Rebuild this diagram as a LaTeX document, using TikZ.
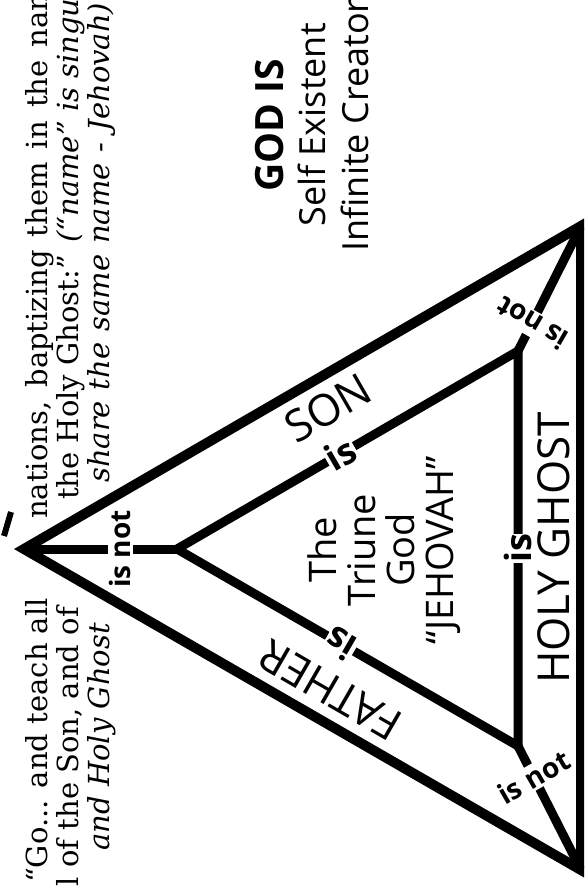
\documentclass[tikz,border=0pt]{standalone}
\usepackage{fontspec}
\setmainfont{DejaVu Serif}
\setsansfont{Open Sans}
\begin{document}
\begin{tikzpicture}[x=1pt,y=-1pt,
  outer/.style={line width=10pt,line join=miter},
  inner/.style={line width=9pt,line join=miter},
  stem/.style={line width=9pt},
  isnot/.style={font=\sffamily\bfseries\fontsize{28}{30}\selectfont,fill=white,inner sep=2pt},
  islbl/.style={font=\sffamily\bfseries\fontsize{36}{40}\selectfont,fill=white,inner sep=1pt},
  person/.style={font=\sffamily\fontsize{44}{46}\selectfont,inner sep=0pt},
  verse/.style={font=\fontsize{29}{31}\selectfont,inner sep=0pt},
  godtxt/.style={font=\sffamily\fontsize{36}{40}\selectfont,inner sep=0pt,rotate=90,anchor=base},
]
\useasboundingbox (0,0) rectangle (584,890);
\clip (0,0) rectangle (584,890);

\coordinate (A) at (24,549);
\coordinate (B) at (581,226);
\coordinate (C) at (581,870);
\coordinate (P) at (177,549);
\coordinate (Q) at (518,351);
\coordinate (R) at (518,746);

% verse text
\node[verse,rotate=90,anchor=base east] (v1a) at (47,598) {“Go... and teach all};
\node[verse,rotate=90,anchor=base west] (v1b) at (47,519) {\makebox[535pt][s]{nations, baptizing them in the nam}};
\node[verse,rotate=90,anchor=base east] (v2a) at (78,607) {l of the Son, and of};
\node[verse,rotate=90,anchor=base west] (v2b) at (78,500) {the Holy Ghost:” \textit{(“name” is singula}};
\node[verse,rotate=90,anchor=base east] (v3a) at (109,623) {\textit{and Holy Ghost}};
\node[verse,rotate=90,anchor=base west] (v3b) at (109,483) {\makebox[480pt][s]{\itshape share the same name - Jehovah)}};
\draw[line width=6pt] (4,536) -- (11,512);

% GOD IS
\node[godtxt,font=\sffamily\bfseries\fontsize{39}{40}\selectfont] (g1) at (283,125) {GOD IS};
\node[godtxt] (g2) at (325,125) {Self Existent};
\node[godtxt] (g3) at (368,125) {Infinite Creator};

% triangles
\draw[outer] (A) -- (B) -- (C) -- cycle;
\draw[inner] (P) -- (Q) -- (R) -- cycle;

% stems
\draw[stem] (A) -- (P) node[isnot,pos=0.63,rotate=90] (s1) {is not};
\draw[stem] (Q) -- (B) node[isnot,pos=0.22,rotate=150] (s2) {is not};
\draw[stem] (R) -- (C) node[isnot,pos=0.25,rotate=30] (s3) {is not};

% is labels
\path (P) -- (Q) node[islbl,pos=0.48,rotate=30] (i1) {is};
\path (P) -- (R) node[islbl,pos=0.48,rotate=150] (i2) {is};
\path (Q) -- (R) node[islbl,pos=0.5,rotate=90,inner sep=0.5pt] (i3) {is};

% persons
\node[person,rotate=30] (son) at (328,408) {SON};
\node[person,rotate=150] (father) at (330,690) {FATHER};
\node[person,rotate=90] (hg) at (554,548) {HOLY GHOST};

% centre
\node[rotate=90,align=center,inner sep=0pt,font=\sffamily\fontsize{38}{39}\selectfont] (god) at (384,550) {The\\Triune\\God\\“JEHOVAH”};
\end{tikzpicture}
\end{document}
